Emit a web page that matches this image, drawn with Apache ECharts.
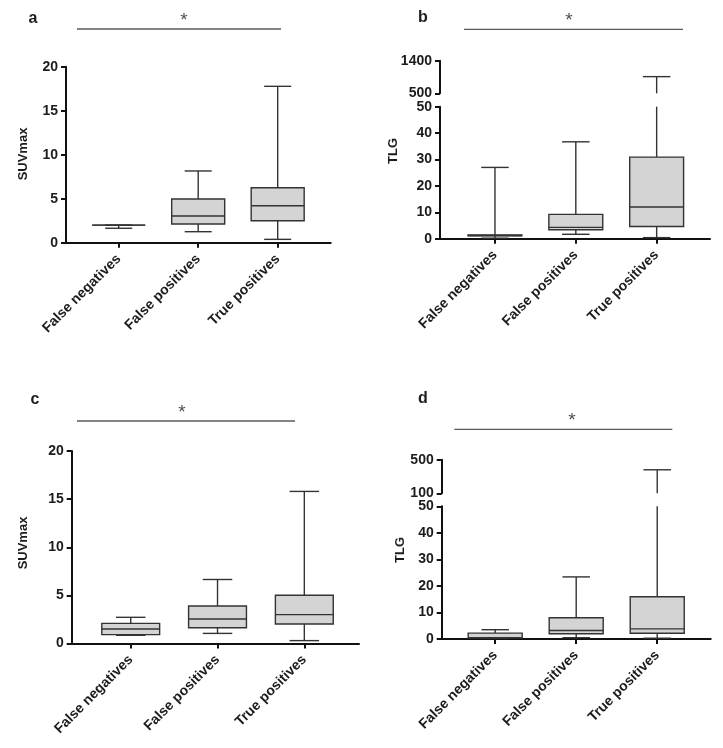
<!DOCTYPE html>
<html>
<head>
<meta charset="utf-8">
<script src="https://cdn.jsdelivr.net/npm/echarts@6/dist/echarts.min.js"></script>
<style>
  html, body { margin: 0; padding: 0; background: #ffffff; }
  #chart { width: 723px; height: 748px; }
</style>
</head>
<body>
<div id="chart"></div>
<script>
// ---- Data ----
const categories = ['False negatives', 'False positives', 'True positives'];
// each row: [min, q1, median, q3, max]
const aStats = [[1.64, 2.0, 2.0, 2.0, 2.0], [1.25, 2.12, 3.03, 4.97, 8.15], [0.38, 2.5, 4.2, 6.25, 17.77]];
const bStats = [[0.2, 1.1, 1.2, 1.4, 27.0], [1.67, 3.4, 4.3, 9.2, 36.7], [0.4, 4.6, 12.0, 30.9, 960]];
const cStats = [[0.85, 0.92, 1.5, 2.09, 2.72], [1.05, 1.64, 2.55, 3.9, 6.65], [0.3, 2.02, 3.0, 5.02, 15.8]];
const dStats = [[0.2, 0.4, 0.5, 2.2, 3.5], [0.5, 2.0, 3.2, 8.0, 23.4], [0.3, 2.15, 3.8, 15.9, 380]];
const yTitles = ['SUVmax', 'TLG', 'SUVmax', 'TLG'];
const panelLetters = ['a', 'b', 'c', 'd'];

// ---- Styling ----
const FONT = '"Liberation Sans", Arial, sans-serif';
const BOX_FILL = '#d4d4d4';
const BOX_LINE = '#333333';
const AXIS = '#111111';
const TEXT = '#1c1c1c';
const HALF_BOX = 1 / 3;
const HALF_CAP = 0.17;

const chart = echarts.init(document.getElementById('chart'), null, { renderer: 'canvas' });

function toRows(stats) {
  return stats.map((s, i) => [i].concat(s));
}

function makeRender(lo, hi) {
  return function (params, api) {
    const x = api.value(0);
    const mn = api.value(1), q1 = api.value(2), md = api.value(3), q3 = api.value(4), mx = api.value(5);
    const children = [];
    const ls = { stroke: BOX_LINE, lineWidth: 1.4, fill: null };
    const clamp = v => Math.max(lo, Math.min(hi, v));
    function seg(x1, v1, x2, v2) {
      const p1 = api.coord([x1, v1]);
      const p2 = api.coord([x2, v2]);
      children.push({ type: 'line', shape: { x1: p1[0], y1: p1[1], x2: p2[0], y2: p2[1] }, style: ls });
    }
    if (mx > lo && q3 < hi && mx > q3) seg(x, clamp(q3), x, clamp(mx));
    if (mx >= lo && mx <= hi) seg(x - HALF_CAP, mx, x + HALF_CAP, mx);
    if (q1 > lo && mn < hi && q1 > mn) seg(x, clamp(mn), x, clamp(q1));
    if (mn >= lo && mn <= hi) seg(x - HALF_CAP, mn, x + HALF_CAP, mn);
    if (q3 >= lo && q1 <= hi) {
      const a = api.coord([x - HALF_BOX, clamp(q3)]);
      const b = api.coord([x + HALF_BOX, clamp(q1)]);
      children.push({
        type: 'rect',
        shape: { x: a[0], y: a[1], width: b[0] - a[0], height: b[1] - a[1] },
        style: { fill: BOX_FILL, stroke: BOX_LINE, lineWidth: 1.4 }
      });
      if (md >= lo && md <= hi) seg(x - HALF_BOX, md, x + HALF_BOX, md);
    }
    return { type: 'group', children: children };
  };
}

const grids = [];
const xAxes = [];
const yAxes = [];
const series = [];

function addPanel(stats, g, xr, yr, showX) {
  const gi = grids.length;
  grids.push({ left: g[0], top: g[1], width: g[2], height: g[3], containLabel: false });
  xAxes.push({
    gridIndex: gi, type: 'value', min: xr[0], max: xr[1], show: showX,
    axisLine: { show: true, onZero: false, lineStyle: { color: AXIS, width: 2 } },
    axisTick: { show: true, customValues: [0, 1, 2], length: 5, lineStyle: { color: AXIS, width: 2 } },
    axisLabel: {
      show: true, customValues: [0, 1, 2], rotate: 45, margin: 14,
      formatter: v => categories[Math.round(v)] || '',
      fontFamily: FONT, fontWeight: 'bold', fontSize: 14, color: TEXT
    },
    splitLine: { show: false }
  });
  yAxes.push({
    gridIndex: gi, type: 'value', min: yr[0], max: yr[1], interval: yr[2],
    axisLine: { show: true, onZero: false, lineStyle: { color: AXIS, width: 2 } },
    axisTick: { show: true, length: 5, lineStyle: { color: AXIS, width: 2 } },
    axisLabel: { fontFamily: FONT, fontWeight: 'bold', fontSize: 14, color: TEXT, margin: 8,
                 formatter: v => String(v) },
    splitLine: { show: false }
  });
  series.push({
    type: 'custom', xAxisIndex: gi, yAxisIndex: gi, clip: false,
    renderItem: makeRender(yr[0], yr[1]),
    data: toRows(stats), silent: true, z: 1
  });
}

// Panel a
addPanel(aStats, [66, 66.7, 264.7, 176], [-0.663, 2.667], [0, 20, 5], true);
// Panel b (broken axis)
addPanel(bStats, [440, 106.7, 270, 132], [-0.68, 2.66], [0, 50, 10], true);
addPanel(bStats, [440, 60.7, 270, 32.6], [-0.68, 2.66], [500, 1400, 900], false);
// Panel c
addPanel(cStats, [71.7, 451, 287.3, 192.5], [-0.68, 2.63], [0, 20, 5], true);
// Panel d (broken axis)
addPanel(dStats, [441.7, 506.3, 269, 132.7], [-0.66, 2.66], [0, 50, 10], true);
addPanel(dStats, [441.7, 459.7, 269, 33.6], [-0.66, 2.66], [100, 500, 400], false);

function txt(x, y, s, size, weight, color, rot) {
  return {
    type: 'text', x: x, y: y, rotation: rot || 0, silent: true,
    style: { text: s, fontFamily: FONT, fontSize: size, fontWeight: weight, fill: color,
             textAlign: 'center', textVerticalAlign: 'middle' }
  };
}
function hline(x1, x2, y) {
  return { type: 'line', silent: true, shape: { x1: x1, y1: y, x2: x2, y2: y },
           style: { stroke: '#5a5a5a', lineWidth: 1.3 } };
}

const graphic = [
  txt(33, 19, panelLetters[0], 16, 'bold', TEXT),
  txt(423, 18, panelLetters[1], 16, 'bold', TEXT),
  txt(35, 400, panelLetters[2], 16, 'bold', TEXT),
  txt(423, 399, panelLetters[3], 16, 'bold', TEXT),
  txt(184, 21, '*', 19, 'normal', '#505050'),
  txt(569, 21, '*', 19, 'normal', '#505050'),
  txt(182, 413, '*', 19, 'normal', '#505050'),
  txt(572, 421, '*', 19, 'normal', '#505050'),
  hline(77, 281, 29),
  hline(464, 683, 29.3),
  hline(77, 295, 421),
  hline(454.3, 672.3, 429.3),
  txt(23, 154, yTitles[0], 13, 'bold', TEXT, Math.PI / 2),
  txt(393, 151, yTitles[1], 13, 'bold', TEXT, Math.PI / 2),
  txt(23.5, 543, yTitles[2], 13, 'bold', TEXT, Math.PI / 2),
  txt(400, 550, yTitles[3], 13, 'bold', TEXT, Math.PI / 2)
];

chart.setOption({
  animation: false,
  backgroundColor: '#ffffff',
  grid: grids,
  xAxis: xAxes,
  yAxis: yAxes,
  series: series,
  graphic: graphic
});
</script>
</body>
</html>
